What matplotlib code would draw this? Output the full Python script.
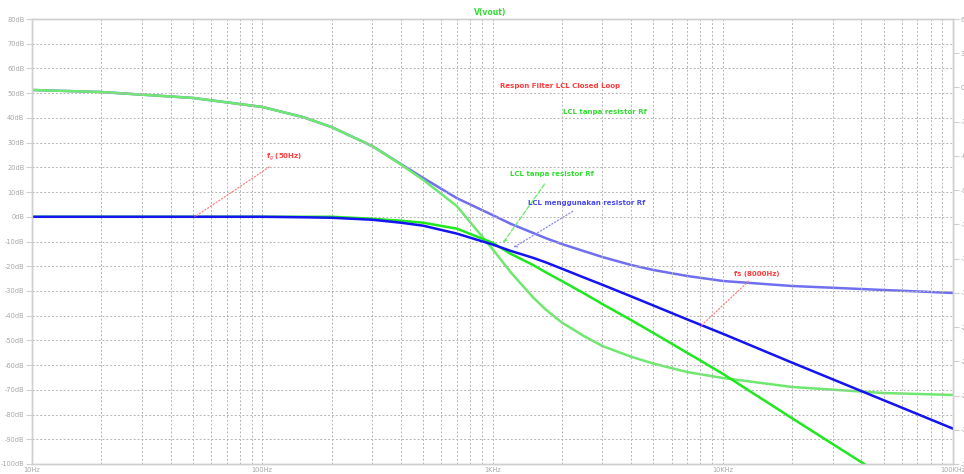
import numpy as np
import matplotlib.pyplot as plt

# frequency points (Hz)
freq = [10, 20, 50, 100, 150, 200, 300, 400, 500, 700, 1000, 1200, 1500, 1700,
        2000, 2500, 3000, 4000, 5000, 7000, 10000, 20000, 50000, 100000]

# magnitude (dB), LCL with damping resistor Rf
mag_rf = [0, 0, 0, 0, -0.2, -0.4, -1.2, -2.4, -3.6, -6.8, -11.2, -13.8, -16.6,
          -18.4, -21.0, -24.6, -27.5, -32.2, -35.9, -41.5, -47.3, -59.0, -74.2,
          -85.7]
# magnitude (dB), LCL without Rf
mag_norf = [0, 0, 0, 0, 0, 0, -0.8, -1.6, -2.4, -4.8, -10.5, -15.0, -19.5,
            -22.4, -26.0, -31.0, -35.3, -41.8, -47.0, -55.0, -63.5, -81.5,
            -105.0, -123.0]

# phase (deg)
ph_rf = [-2.2, -4.0, -9.2, -17.1, -25.9, -34.7, -51.3, -67.1, -79.3, -97.0,
         -111.8, -119.5, -127.5, -132.0, -137.2, -143.5, -148.6, -155.6,
         -160.0, -165.2, -169.6, -174.0, -177.5, -180.1]
ph_norf = [-2.2, -4.0, -9.2, -17.1, -25.9, -34.7, -51.3, -67.5, -81.0, -104.0,
           -141.6, -162.0, -184.0, -194.5, -206.0, -218.0, -226.6, -236.0,
           -242.0, -249.4, -254.6, -262.5, -267.8, -269.5]

db_ticks = list(range(-100, 90, 10))
deg_ticks = list(range(60, -331, -30))
hz_ticks = [10, 100, 1000, 10000, 100000]
hz_labels = ['10Hz', '100Hz', '1KHz', '10KHz', '100KHz']

grey = '#b4b4b4'
txt = '#a8a8a8'

fig = plt.figure(figsize=(9.64, 4.74), dpi=100)
ax = fig.add_axes([32/964, 10/474, 921/964, 445/474])
ax2 = ax.twinx()

ax.set_xscale('log')
ax.set_xlim(10, 100000)
ax.set_ylim(-100, 80)
ax2.set_ylim(-330, 60)

# phase first so it sits under the magnitude lines
ax2.plot(freq, ph_rf, color='#6f6ff0', lw=1.8, zorder=2)
ax2.plot(freq, ph_norf, color='#6ee86e', lw=1.8, zorder=2)
ax.set_zorder(ax2.get_zorder() + 1)
ax.patch.set_visible(False)
ax.plot(freq, mag_norf, color='#1fe81f', lw=1.8, clip_on=True)
ax.plot(freq, mag_rf, color='#1414f0', lw=1.8)

for a in (ax, ax2):
    for s in a.spines.values():
        s.set_color('#cfcfcf')
        s.set_linewidth(1.0)

ax.set_yticks(db_ticks)
ax.set_yticklabels([f'{v}dB' for v in db_ticks])
ax.set_xticks(hz_ticks)
ax.set_xticklabels(hz_labels)
ax.tick_params(axis='both', which='major', colors='#cfcfcf', labelcolor=txt,
               labelsize=4.8, length=4, width=0.8, pad=1.5)
ax.tick_params(axis='x', which='minor', length=0)
ax.tick_params(axis='x', which='major', length=0, pad=2)
ax2.set_yticks(deg_ticks)
ax2.set_yticklabels([f'{v}°' for v in deg_ticks])
ax2.tick_params(axis='y', colors='#cfcfcf', labelcolor=txt, labelsize=4.8,
                length=4, width=0.8, pad=1.5)

ax.grid(True, which='both', axis='x', color=grey, ls=(0, (2, 2)), lw=0.7)
ax.grid(True, which='major', axis='y', color=grey, ls=(0, (2, 2)), lw=0.7)

fig.text(490/964, 1 - 13/474, 'V(vout)', color='#33dd33', fontsize=5.5,
         fontweight='bold', ha='center', va='center')

ax.text(1079, 52.9, 'Respon Filter LCL Closed Loop', color='#ff3b3b',
        fontsize=5, fontweight='bold', va='center')
ax.text(2028, 42.4, 'LCL tanpa resistor Rf', color='#33dd33',
        fontsize=5, fontweight='bold', va='center')

ax.annotate('f$_g$ (50Hz)', xy=(51, 0), xytext=(104, 24.2),
            color='#ff3b3b', fontsize=5, fontweight='bold', va='center',
            arrowprops=dict(arrowstyle='-', color='#ff8080', ls=':', lw=0.9,
                            shrinkA=2, shrinkB=0))
ax.annotate('fs (8000Hz)', xy=(7980, -44.4), xytext=(11200, -23),
            color='#ff3b3b', fontsize=5, fontweight='bold', va='center',
            arrowprops=dict(arrowstyle='-', color='#ff8080', ls=':', lw=0.9,
                            shrinkA=2, shrinkB=0))
ax.annotate('LCL tanpa resistor Rf', xy=(1112, -10.5), xytext=(1191, 17.4),
            color='#33dd33', fontsize=5, fontweight='bold', va='center',
            arrowprops=dict(arrowstyle='->', color='#66ee66', ls='--', lw=0.9,
                            shrinkA=4, shrinkB=0))
ax.annotate('LCL menggunakan resistor Rf', xy=(1231, -12.5), xytext=(1429, 5.7),
            color='#4a4af0', fontsize=5, fontweight='bold', va='center',
            arrowprops=dict(arrowstyle='->', color='#8888f0', ls=':', lw=0.9,
                            shrinkA=4, shrinkB=0))

fig.savefig('out.png', dpi=100)
